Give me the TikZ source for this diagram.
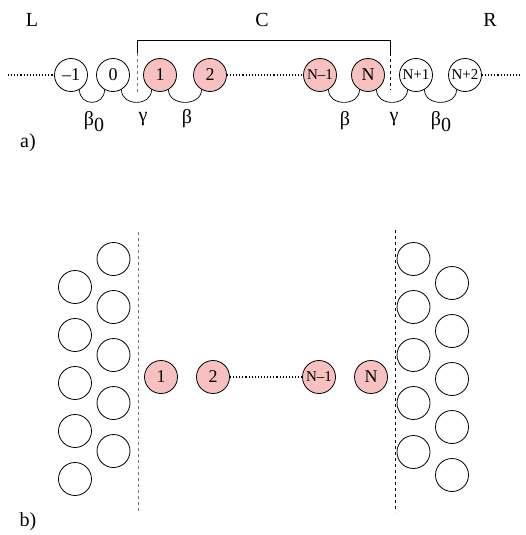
\documentclass[tikz,border=0pt]{standalone}
\usepackage{fontspec}
\setmainfont{Liberation Serif}
\definecolor{site}{RGB}{247,193,193}
\begin{document}
\begin{tikzpicture}[x=1pt,y=-1pt,
  atom/.style={circle,draw,line width=0.8pt,minimum size=33pt,inner sep=0pt,font=\fontsize{18}{18}\selectfont},
  dev/.style={atom,fill=site},
  small/.style={font=\fontsize{15}{15}\selectfont},
  lbl/.style={font=\fontsize{20}{20}\selectfont},
  chain/.style={dotted,line width=1.1pt},
  hop/.style={line width=0.7pt},
  wall/.style={dashed,line width=0.7pt},
  gwall/.style={dashed,line width=0.8pt,draw=black!55}]
\useasboundingbox (0,0) rectangle (526,535);

% ---------- a) linear chain ----------
\node[lbl] (tL) at (32,20) {L};
\node[lbl] (tC) at (262,20) {C};
\node[lbl] (tR) at (490,20) {R};
\node[lbl] (ta) at (28,143) {a)};

\node[atom] (m1) at (71,75) {–1};
\node[atom] (z0) at (113,75) {0};
\node[dev] (a1) at (160,75) {1};
\node[dev] (a2) at (210,75) {2};
\node[dev,small] (aNm) at (320,75) {N–1};
\node[dev] (aN) at (368,75) {N};
\node[atom,small] (aNp) at (416,75) {N+1};
\node[atom,small] (aNpp) at (465,75) {N+2};

\coordinate (lend) at (8,75);
\coordinate (rend) at (522,75);
\draw[chain] (lend) -- (m1);
\draw[chain] (a2) -- (aNm);
\draw[chain] (aNpp) -- (rend);

% hopping arcs
\foreach \p/\q in {m1/z0,z0/a1,a1/a2,aNm/aN,aN/aNp,aNp/aNpp}
  \draw[hop] (\p.-60) .. controls +(0,17) and +(0,17) .. (\q.-120);

\node[lbl] (b0l) at (94,122) {β\raisebox{-6pt}{0}};
\node[lbl] (gl) at (143,119) {γ};
\node[lbl] (bl) at (187,119) {β};
\node[lbl] (br) at (345,121) {β};
\node[lbl] (gr) at (394,119) {γ};
\node[lbl] (b0r) at (441,122) {β\raisebox{-6pt}{0}};

% bracket around the central region
\coordinate (cl) at (137.5,40);
\coordinate (cr) at (390.5,40);
\coordinate (clm) at (137.5,53);
\coordinate (crm) at (390.5,53);
\coordinate (clb) at (137.5,93);
\coordinate (crb) at (390.5,90);
\draw[line width=0.7pt] (clm) -- (cl) -- (cr) -- (crm);
\draw[gwall] (clm) -- (clb);
\draw[wall] (crm) -- (crb);

% ---------- b) device between reservoirs ----------
\node[lbl] (tb) at (28,522) {b)};

\coordinate (lw1) at (138,232);
\coordinate (lw2) at (138,512);
\coordinate (rw1) at (395,230);
\coordinate (rw2) at (395,512);
\draw[gwall] (lw1) -- (lw2);
\draw[wall] (rw1) -- (rw2);

\foreach \y [count=\i] in {259,307,355,403,451}
  \node[atom] (li\i) at (113.5,\y) {};
\foreach \y [count=\i] in {287,335,383,431,479}
  \node[atom] (lo\i) at (75,\y) {};
\foreach \y [count=\i] in {259,307,355,403,452}
  \node[atom] (ri\i) at (413.5,\y) {};
\foreach \y [count=\i] in {283,331,379,427,475}
  \node[atom] (ro\i) at (452,\y) {};

\node[dev] (b1) at (161,377) {1};
\node[dev] (b2) at (213,377) {2};
\node[dev,small] (bNm) at (319,377) {N–1};
\node[dev] (bN) at (371,377) {N};
\draw[chain] (b2) -- (bNm);
\end{tikzpicture}
\end{document}
